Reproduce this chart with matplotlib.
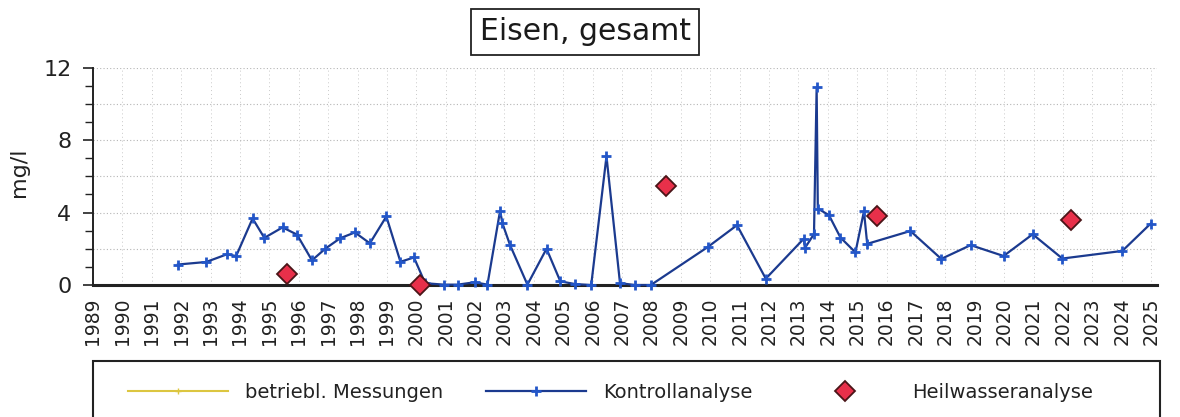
import matplotlib
matplotlib.use("Agg")
import matplotlib.pyplot as plt
from matplotlib.lines import Line2D
from matplotlib.patches import Rectangle
from matplotlib.ticker import MultipleLocator

plt.rcParams['font.family'] = ['DejaVu Sans']

# ---- data (decimal years, mg/l) ----
kontroll_years = [1991.89, 1992.85, 1993.55, 1993.87, 1994.43, 1994.83, 1995.45, 1995.94,
                  1996.45, 1996.90, 1997.41, 1997.91, 1998.42, 1998.98, 1999.46, 1999.92,
                  2000.30, 2000.93, 2001.41, 2001.98, 2002.42, 2002.85, 2002.93, 2003.19,
                  2003.78, 2004.43, 2004.90, 2005.41, 2005.95, 2006.47, 2006.93, 2007.44,
                  2007.98, 2009.92, 2010.91, 2011.89, 2013.18, 2013.22, 2013.53, 2013.62,
                  2013.66, 2014.04, 2014.43, 2014.94, 2015.23, 2015.34, 2016.81, 2017.86,
                  2018.86, 2019.98, 2020.97, 2021.98, 2024.02, 2024.98]
kontroll_values = [1.13, 1.27, 1.69, 1.60, 3.67, 2.60, 3.18, 2.78,
                   1.36, 2.00, 2.58, 2.90, 2.30, 3.78, 1.28, 1.52,
                   0.10, 0.02, 0.02, 0.15, 0.02, 4.10, 3.40, 2.20,
                   0.02, 2.00, 0.20, 0.05, 0.00, 7.10, 0.10, 0.00,
                   0.00, 2.10, 3.30, 0.35, 2.55, 2.04, 2.81, 10.90,
                   4.22, 3.85, 2.62, 1.80, 4.07, 2.27, 2.98, 1.44,
                   2.20, 1.60, 2.80, 1.46, 1.88, 3.38]

heil_years = [1995.60, 2000.11, 2008.50, 2015.68, 2022.26]
heil_values = [0.60, 0.00, 5.45, 3.80, 3.57]

betrieb_years = []
betrieb_values = []

year_ticks = list(range(1989, 2026))
year_labels = [str(y) for y in year_ticks]

title = "Eisen, gesamt"
ylabel = "mg/l"
legend_labels = ["betriebl. Messungen", "Kontrollanalyse", "Heilwasseranalyse"]

# ---- figure ----
W, H = 1180, 417
fig = plt.figure(figsize=(W / 100, H / 100), dpi=100)
ax = fig.add_axes([93 / W, (H - 285) / H, 1064 / W, 217.5 / H])

l_betrieb, = ax.plot(betrieb_years, betrieb_values, color='#dcc640', lw=1.5,
                     marker='+', ms=5, mew=1.0, label=legend_labels[0])
l_kontroll, = ax.plot(kontroll_years, kontroll_values, color='#1b3a8f', lw=1.6,
                      marker='+', ms=7.5, mew=2.0, mec='#2356c8',
                      label=legend_labels[1], clip_on=False, zorder=3)
l_heil, = ax.plot(heil_years, heil_values, ls='none', marker='D', ms=10,
                  mfc='#e8304a', mec='#4a1518', mew=1.3,
                  label=legend_labels[2], clip_on=False, zorder=4)

ax.set_xlim(1989, 2025.2)
ax.set_ylim(0, 12)

ax.set_xticks(year_ticks)
ax.set_xticklabels(year_labels, rotation=90, fontsize=13.5, color='#222222')
ax.tick_params(axis='x', length=0, pad=9)

ax.yaxis.set_major_locator(MultipleLocator(4))
ax.yaxis.set_minor_locator(MultipleLocator(1))
ax.tick_params(axis='y', which='major', length=7.5, width=1.2, labelsize=16,
               pad=8, colors='#222222')
ax.tick_params(axis='y', which='minor', length=5.5, width=1.0, colors='#222222')

for x in year_ticks:
    ax.axvline(x, color='#c9c9c9', lw=0.7, ls=(0, (1, 3)), zorder=0)
for y in range(2, 13, 2):
    ax.axhline(y, color='#b5b5b5', lw=0.8, ls=(0, (1, 2)), zorder=0)

for s in ['top', 'right']:
    ax.spines[s].set_visible(False)
ax.spines['left'].set_linewidth(1.4)
ax.spines['left'].set_color('#222222')
ax.spines['bottom'].set_linewidth(2.2)
ax.spines['bottom'].set_color('#222222')

ax.set_ylabel(ylabel, fontsize=16, color='#222222')
ax.yaxis.set_label_coords(-0.060, 0.52)

fig.text(585 / W, 1 - 32 / H, title, ha='center', va='center', fontsize=21.5,
         color='#1a1a1a',
         bbox=dict(boxstyle='square,pad=0.28', fc='white', ec='#222222', lw=1.3))

# legend
fig.add_artist(Rectangle((93 / W, -0.05), (1160 - 93) / W, 0.05 + (H - 361) / H,
                         transform=fig.transFigure, fill=False, ec='#222222',
                         lw=1.5))
leg = fig.legend(handles=[l_betrieb, l_kontroll, l_heil], loc='center left',
                 bbox_to_anchor=(118 / W, 1 - 392 / H), ncol=3, frameon=False,
                 fontsize=14, handlelength=5.15, handletextpad=0.87,
                 columnspacing=2.2, borderpad=0, numpoints=1)
for t in leg.get_texts():
    t.set_color('#222222')

fig.savefig('out.png', dpi=100)
